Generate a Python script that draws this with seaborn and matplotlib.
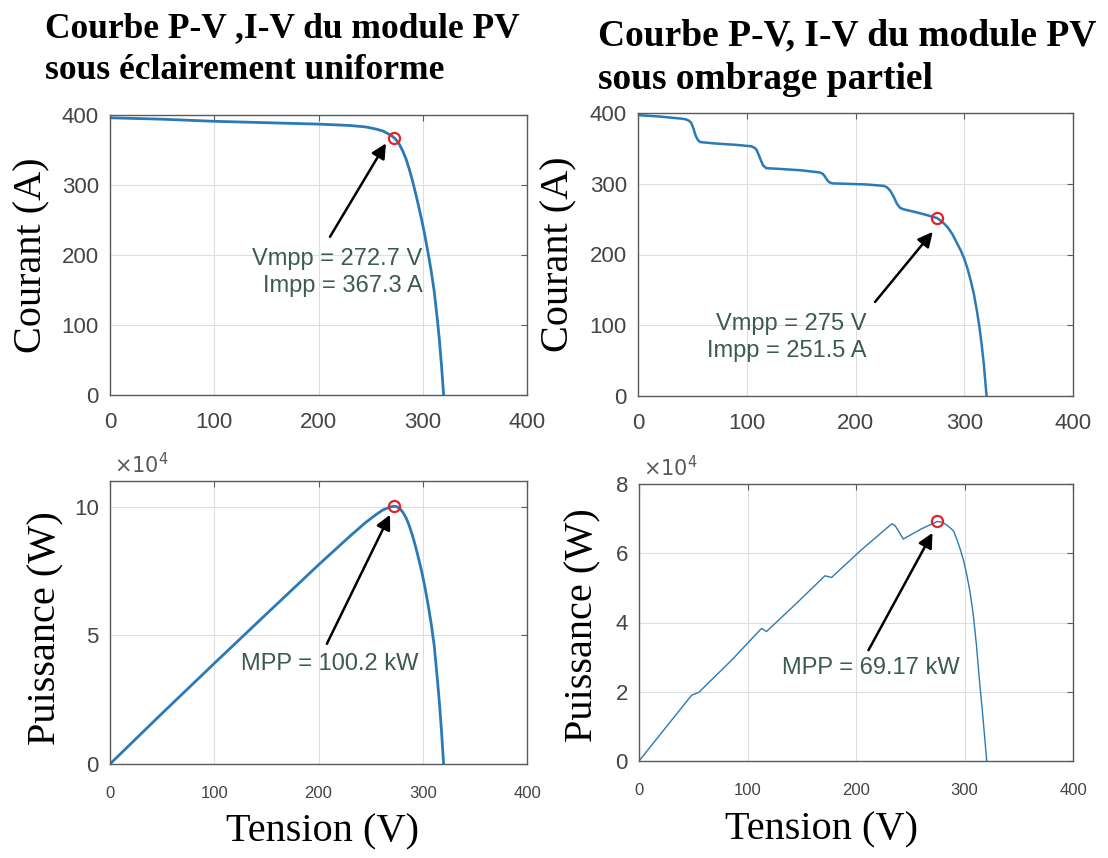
import numpy as np
import seaborn as sns
import matplotlib.pyplot as plt
from matplotlib.ticker import FuncFormatter

# --- data ---
# uniform irradiance, I-V
v_iv_uni = [0, 50, 100, 150, 200, 230, 245, 255, 262, 267, 270, 272.7, 275, 278, 281, 284, 287, 290,
            293, 296, 299, 302, 305, 308, 311, 314, 316, 318, 320]
i_iv_uni = [396, 394, 391, 389, 387, 385, 383, 380, 377, 373, 370.5, 367.3, 363.5, 357, 348, 337, 323, 307,
            289, 270, 250, 228, 204, 178, 148, 108, 78, 42, 0]

# uniform irradiance, P-V (W)
v_pv_uni = [0, 50, 100, 150, 200, 230, 245, 255, 262, 267, 270, 272.7, 275, 278, 281, 284, 287, 290,
            293, 296, 299, 302, 305, 308, 311, 314, 316, 318, 320]
p_pv_uni = [0, 19700, 39100, 58300, 77400, 88500, 93800, 96900, 98800, 99600, 100000, 100200, 100000,
            99300, 97800, 95700, 92700, 89000, 84700, 79900, 74800, 68900, 62200, 54800, 46000, 33000,
            23700, 12700, 0]

# partial shading, I-V
v_iv_sh = [0, 20, 40, 44, 47, 49, 51, 53, 55, 57, 70, 90, 104, 107, 109, 111, 113, 115, 118, 130, 150,
           167, 170, 172, 174, 176, 179, 190, 210, 226, 229, 232, 235, 238, 241, 244, 255, 265, 275,
           280, 285, 289, 293, 297, 300, 303, 306, 309, 312, 314, 316, 318, 320.5]
i_iv_sh = [397, 395, 392, 391, 389, 386, 378, 368, 362, 359, 357, 355, 353, 351, 348, 341, 333, 326, 322,
           321, 319, 316, 314, 310, 305, 302, 300.5, 300, 299, 297, 295, 290, 282, 272, 266, 264, 260,
           256, 251.5, 246, 238, 229, 217, 205, 194, 180, 163, 143, 117, 97, 73, 45, 0]

# partial shading, P-V (W)
v_pv_sh = [0, 25, 48.5, 55, 85, 113, 117.5, 145, 171.4, 177.5, 205, 233, 236, 240, 243.5, 260, 275,
           279, 283, 287, 290, 293, 296, 299, 302, 305, 308, 311, 314, 316, 318, 320.5]
p_pv_sh = [0, 9800, 19000, 19800, 29000, 38300, 37400, 45500, 53500, 53000, 61000, 68500, 68000,
           66000, 64100, 67000, 69170, 69000, 68300, 67300, 66400, 64000, 61200, 58100, 53900, 49000,
           42500, 33500, 22500, 16000, 9000, 0]

mpp_uni = (272.7, 367.3, 100200)
mpp_sh = (275, 251.5, 69170)

titles = ["Courbe P-V ,I-V du module PV\nsous éclairement uniforme",
          "Courbe P-V, I-V du module PV\nsous ombrage partiel"]

blue = '#2a7ab8'
txt_col = '#3b5a50'

sns.set_style("whitegrid", {"grid.color": "#dedede", "axes.edgecolor": "#5a5a5a"})
plt.rcParams['font.family'] = ['Liberation Sans', 'DejaVu Sans']

fig = plt.figure(figsize=(11.08, 8.58), dpi=100)
W, H = 1108, 858
ax_tl = fig.add_axes([110 / W, 1 - 395 / H, 417 / W, 280 / H])
ax_tr = fig.add_axes([638 / W, 1 - 396 / H, 435 / W, 283 / H])
ax_bl = fig.add_axes([110 / W, 1 - 764 / H, 417 / W, 283 / H])
ax_br = fig.add_axes([639 / W, 1 - 761 / H, 434 / W, 277 / H])

sns.lineplot(x=v_iv_uni, y=i_iv_uni, ax=ax_tl, color=blue, lw=2.0)
sns.lineplot(x=v_iv_sh, y=i_iv_sh, ax=ax_tr, color=blue, lw=1.8)
sns.lineplot(x=v_pv_uni, y=p_pv_uni, ax=ax_bl, color=blue, lw=2.0)
sns.lineplot(x=v_pv_sh, y=p_pv_sh, ax=ax_br, color=blue, lw=1.0)

ax_tl.plot(mpp_uni[0], mpp_uni[1], 'o', mfc='none', mec='#e8202a', ms=8, mew=1.6)
ax_tr.plot(mpp_sh[0], mpp_sh[1], 'o', mfc='none', mec='#e8202a', ms=8, mew=1.6)
ax_bl.plot(mpp_uni[0], mpp_uni[2], 'o', mfc='none', mec='#e8202a', ms=8, mew=1.6)
ax_br.plot(mpp_sh[0], mpp_sh[2], 'o', mfc='none', mec='#e8202a', ms=8, mew=1.6)

arrow = dict(arrowstyle='-|>', color='black', lw=1.8, mutation_scale=22, shrinkA=0, shrinkB=0)
ax_tl.annotate("", xy=(264.7, 359.5), xytext=(211, 226), arrowprops=arrow)
ax_tl.text(300, 175, f"Vmpp = {mpp_uni[0]} V\nImpp = {mpp_uni[1]} A", ha='right', va='center',
           multialignment='right', fontsize=17, color=txt_col, linespacing=1.3)
ax_tr.annotate("", xy=(271, 232), xytext=(218, 133), arrowprops=arrow)
ax_tr.text(210, 83, f"Vmpp = {mpp_sh[0]} V\nImpp = {mpp_sh[1]} A", ha='right', va='center',
           multialignment='right', fontsize=17, color=txt_col, linespacing=1.3)
ax_bl.annotate("", xy=(268.6, 96900), xytext=(208, 46700), arrowprops=arrow)
ax_bl.text(211, 39000, f"MPP = {mpp_uni[2] / 1000:.1f} kW", ha='center', va='center',
           fontsize=17, color=txt_col)
ax_br.annotate("", xy=(270.5, 65900), xytext=(211.5, 32000), arrowprops=arrow)
ax_br.text(213.4, 26800, f"MPP = {mpp_sh[2] / 1000:.2f} kW", ha='center', va='center',
           fontsize=17, color=txt_col)

for ax in (ax_tl, ax_tr, ax_bl, ax_br):
    ax.set_xlim(0, 400)
    ax.set_xticks([0, 100, 200, 300, 400])
    ax.tick_params(direction='in', length=4, width=0.8, top=True, right=True, colors='#5a5a5a',
                   labelcolor='#444444', labelsize=16, pad=8)
    ax.tick_params(axis='x', pad=12)
    for s in ax.spines.values():
        s.set_linewidth(1.0)
    ax.grid(True, lw=0.8)

for ax in (ax_tl, ax_tr):
    ax.set_ylim(0, 400)
    ax.set_yticks([0, 100, 200, 300, 400])
    ax.set_ylabel("Courant (A)", family='Liberation Serif', fontsize=29, va='center', color='black')

ax_bl.set_ylim(0, 110000)
ax_bl.set_yticks([0, 50000, 100000])
ax_br.set_ylim(0, 80000)
ax_br.set_yticks([0, 20000, 40000, 60000, 80000])
for ax in (ax_bl, ax_br):
    ax.yaxis.set_major_formatter(FuncFormatter(lambda v, p: f"{v / 1e4:g}"))
    ax.set_ylabel("Puissance (W)", family='Liberation Serif', fontsize=29, va='center', color='black')
    ax.set_xlabel("Tension (V)", family='Liberation Serif', fontsize=29, va='center', color='black')
    ax.tick_params(axis='x', labelsize=12, pad=16)
    ax.text(0.01, 1.015, r"$\times10^4$", transform=ax.transAxes, ha='left', va='bottom',
            fontsize=15, color='#5a5a5a')

ax_tl.yaxis.set_label_coords(-0.187, 0.5)
ax_tr.yaxis.set_label_coords(-0.182, 0.5)
ax_bl.yaxis.set_label_coords(-0.153, 0.48)
ax_br.yaxis.set_label_coords(-0.129, 0.49)
ax_bl.xaxis.set_label_coords(0.51, -0.24)
ax_br.xaxis.set_label_coords(0.42, -0.25)

fig.text(45 / W, 1 - 12 / H, titles[0], ha='left', va='top', family='Liberation Serif',
         fontweight='bold', fontsize=25.5, linespacing=1.36, color='black')
fig.text(598 / W, 1 - 18 / H, titles[1], ha='left', va='top', family='Liberation Serif',
         fontweight='bold', fontsize=27, linespacing=1.34, color='black')

fig.savefig("out.png", dpi=100)
